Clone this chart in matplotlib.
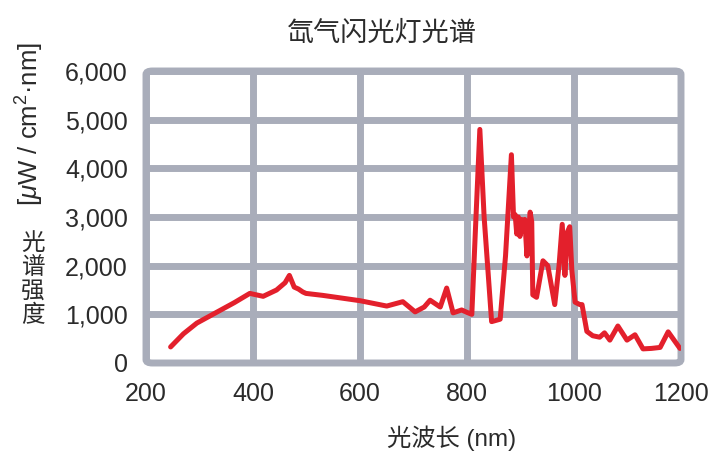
import matplotlib
matplotlib.use('Agg')
import matplotlib.pyplot as plt
from matplotlib.patches import FancyBboxPatch

plt.rcParams['font.family'] = ['Liberation Sans', 'Noto Sans CJK SC']
plt.rcParams['mathtext.fontset'] = 'custom'
plt.rcParams['mathtext.rm'] = 'Liberation Sans'
plt.rcParams['mathtext.it'] = 'Liberation Sans:italic'

# spectrum (nm, uW/cm2.nm)
wavelength = [246, 270, 295, 330, 365, 394, 419, 444, 460, 468, 477, 485, 493, 499,
              530, 562, 600, 650, 680, 703, 720, 731, 750, 762, 774, 790, 800, 809,
              816, 824, 832, 846, 862, 872, 883, 887, 890, 893, 896, 899, 902, 905,
              908, 912, 918, 921, 923, 930, 942, 951, 964, 972, 978, 983, 988, 992,
              996, 1002, 1011, 1015, 1024, 1035, 1048, 1057, 1067, 1082, 1099, 1114,
              1129, 1145, 1161, 1176, 1198]
intensity = [330, 600, 820, 1030, 1240, 1430, 1370, 1500, 1650, 1800, 1560, 1520, 1460, 1430,
             1390, 1340, 1280, 1170, 1260, 1050, 1150, 1290, 1150, 1540, 1030, 1090, 1040, 1000,
             2800, 4800, 3000, 850, 900, 2200, 4280, 3000, 3050, 2650, 3000, 2600, 2950, 2700,
             2950, 2200, 3100, 2900, 1400, 1350, 2100, 2000, 1200, 2000, 2850, 1800, 2700, 2800,
             1900, 1250, 1200, 1200, 650, 560, 530, 620, 470, 760, 470, 580,
             290, 300, 320, 640, 300]

xticks = [200, 400, 600, 800, 1000, 1200]
yticks = [0, 1000, 2000, 3000, 4000, 5000, 6000]
ytick_labels = ['0', '1,000', '2,000', '3,000', '4,000', '5,000', '6,000']

grid_color = '#A9ADBA'
text_color = '#2b2b2b'

fig = plt.figure(figsize=(7.28, 4.69), dpi=100)
ax = fig.add_axes([146/728, 1 - 363/469, 535/728, 292/469])

ax.plot(wavelength, intensity, color='#E3202C', lw=3.6, solid_joinstyle='round',
        solid_capstyle='round', zorder=3)

ax.set_xlim(200, 1200)
ax.set_ylim(0, 6000)
ax.set_xticks(xticks)
ax.set_yticks(yticks)
ax.set_yticklabels(ytick_labels)
ax.tick_params(length=0, labelsize=18, colors=text_color)
ax.tick_params(axis='y', pad=13)
ax.tick_params(axis='x', pad=14)
ax.set_axisbelow(True)
ax.grid(True, color=grid_color, lw=5)
for s in ax.spines.values():
    s.set_visible(False)

frame = FancyBboxPatch((0, 0), 1, 1, boxstyle='round,pad=0,rounding_size=0.012',
                       transform=ax.transAxes, fill=False, ec=grid_color, lw=5,
                       clip_on=False, zorder=2)
ax.add_patch(frame)

fig.text(382/728, 1 - 34/469, '氙气闪光灯光谱', ha='center', va='center',
         fontsize=19.5, color=text_color)
fig.text(452/728, 1 - 438/469, '光波长 (nm)', ha='center', va='center',
         fontsize=17.5, color=text_color)
fig.text(30/728, 1 - 124/469, r'[$\mu$W / cm$^2$·nm]', ha='center', va='center',
         rotation=90, fontsize=18.5, color=text_color)
fig.text(33/728, 1 - 280/469, '光\n谱\n强\n度', ha='center', va='center',
         fontsize=17, linespacing=1.1, color=text_color)

fig.savefig('out.png', dpi=100)
